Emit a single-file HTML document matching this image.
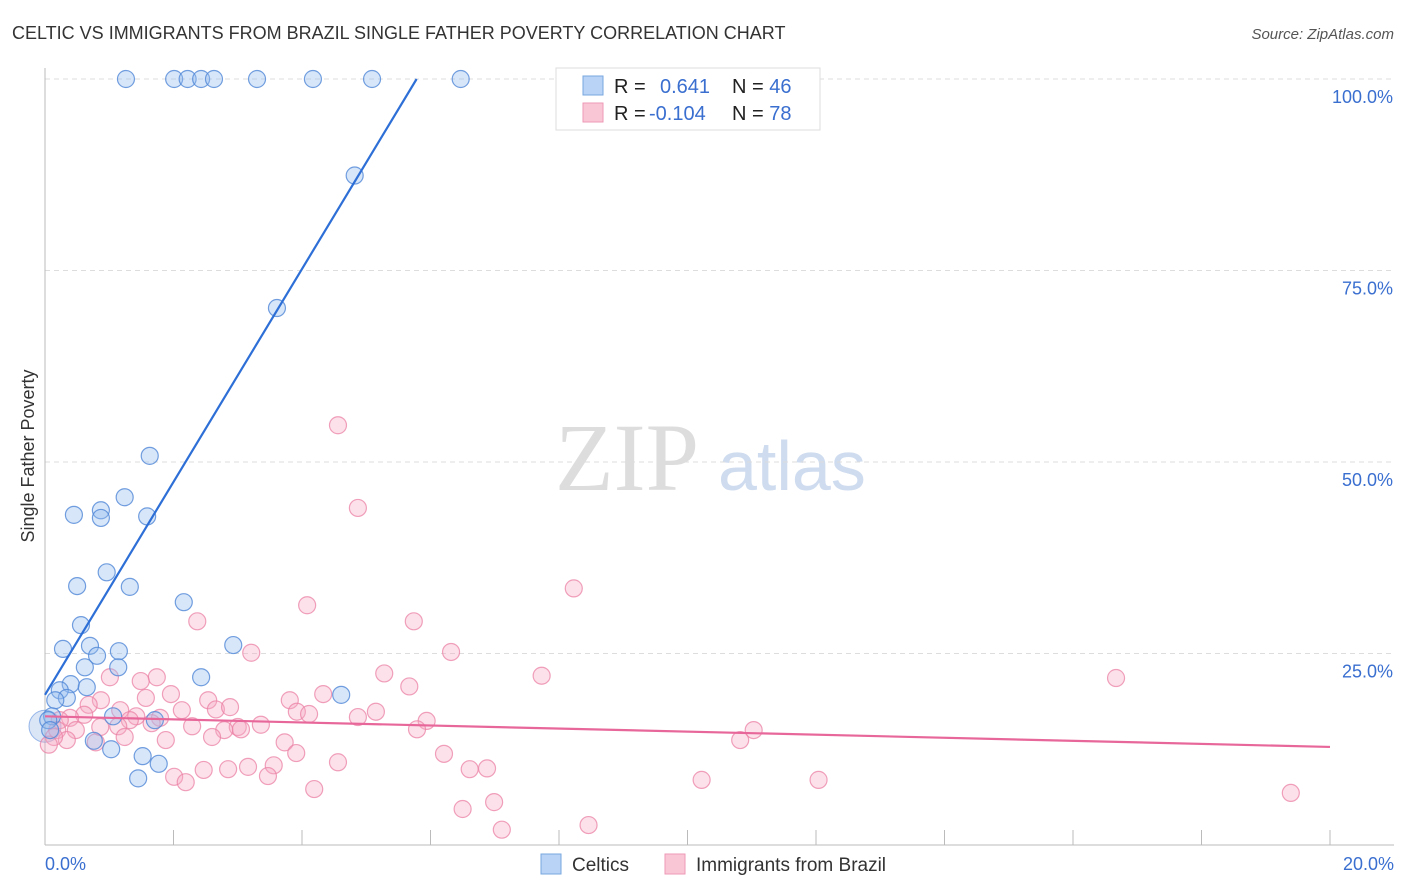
<!DOCTYPE html>
<html><head><meta charset="utf-8"><style>
body{margin:0;background:#fff;font-family:"Liberation Sans",sans-serif;}
#wrap{position:relative;width:1406px;height:892px;overflow:hidden;}
</style></head><body>
<div id="wrap">
<svg id="svg" width="1406" height="892" xmlns="http://www.w3.org/2000/svg">
<text x="12" y="39" font-size="18" fill="#333">CELTIC VS IMMIGRANTS FROM BRAZIL SINGLE FATHER POVERTY CORRELATION CHART</text>
<text x="1394" y="39" font-size="15" fill="#555" font-style="italic" text-anchor="end">Source: ZipAtlas.com</text>
<text x="34" y="456" font-size="18" fill="#333" text-anchor="middle" transform="rotate(-90 34 456)">Single Father Poverty</text>
<text x="555" y="490" font-size="96" fill="#ddd" font-family="Liberation Serif,serif">ZIP</text>
<text x="718" y="490" font-size="70" fill="#cfdcef">atlas</text>
<g id="grid"></g><g id="pts"></g><g id="lines"></g>
<g>
<rect x="556" y="68" width="264" height="62" fill="#fff" stroke="#ddd"/>
<rect x="583" y="76" width="20" height="19" fill="#b8d3f5" stroke="#7aa7e0"/>
<rect x="583" y="103" width="20" height="19" fill="#f9c6d6" stroke="#ee9ab5"/>
<text x="614" y="93" font-size="20" fill="#222">R = <tspan x="660" fill="#3a6fd0">0.641</tspan><tspan x="732" fill="#222">N = </tspan><tspan fill="#3a6fd0">46</tspan></text>
<text x="614" y="120" font-size="20" fill="#222">R = <tspan x="649" fill="#3a6fd0">-0.104</tspan><tspan x="732" fill="#222">N = </tspan><tspan fill="#3a6fd0">78</tspan></text>
</g>
<g>
<rect x="541" y="854" width="20" height="20" fill="#b8d3f5" stroke="#7aa7e0"/>
<text x="572" y="871" font-size="19" fill="#333">Celtics</text>
<rect x="665" y="854" width="20" height="20" fill="#f9c6d6" stroke="#ee9ab5"/>
<text x="696" y="871" font-size="19" fill="#333">Immigrants from Brazil</text>
</g>
</svg></div>
<script>
const yTicks=[25,50,75,100];
const yTickLabels=["25.0%","50.0%","75.0%","100.0%"];
const xTicks=[0,2,4,6,8,10,12,14,16,18,20];
const celticsX=[1.26,2.01,2.22,2.43,2.63,3.30,4.17,5.09,6.47,4.82,3.61,1.63,1.24,0.45,0.87,0.87,1.59,0.50,0.96,1.32,0.56,2.16,0.28,0.70,0.81,1.15,1.14,2.93,0.62,0.40,0.65,2.43,0.23,0.34,0.16,4.61,1.06,1.71,0.11,0.05,0.76,1.03,1.52,1.77,1.45,0.08];
const celticsY=[100,100,100,100,100,100,100,100,100,87.4,70.1,50.8,45.4,43.1,43.7,42.7,42.9,33.8,35.6,33.7,28.7,31.7,25.6,26.0,24.7,25.3,23.2,26.1,23.2,21.0,20.6,21.9,20.2,19.2,18.9,19.6,16.8,16.3,16.8,16.3,13.6,12.5,11.6,10.6,8.7,15.0];
const brazilX=[4.56,4.87,8.23,4.08,2.37,5.74,3.21,6.32,5.28,7.73,16.67,5.67,1.74,1.01,1.49,1.96,1.57,4.33,3.81,2.54,0.87,0.68,2.13,2.66,2.88,3.92,4.11,5.15,4.87,5.94,1.17,1.42,1.79,1.66,1.32,0.61,0.39,0.23,0.86,1.14,2.29,3.00,3.05,2.79,3.36,5.79,11.03,10.82,0.48,0.19,0.34,0.14,1.24,2.60,1.88,3.73,0.79,3.91,6.21,3.16,3.56,4.56,6.61,6.88,2.47,2.85,2.01,2.19,3.47,10.22,12.04,4.19,6.99,6.50,7.11,8.46,19.39,0.06];
const brazilY=[54.8,44.0,33.5,31.3,29.2,29.2,25.1,25.2,22.4,22.1,21.8,20.7,21.9,21.9,21.4,19.7,19.2,19.7,18.9,18.9,18.9,18.3,17.6,17.7,18.0,17.4,17.1,17.4,16.7,16.2,17.6,16.8,16.6,15.9,16.3,17.0,16.6,16.3,15.4,15.5,15.5,15.4,15.1,15.0,15.7,15.1,15.0,13.7,15.0,15.0,13.7,14.1,14.1,14.1,13.7,13.4,13.4,12.0,11.9,10.2,10.4,10.8,9.9,10.0,9.8,9.9,8.9,8.2,9.0,8.5,8.5,7.3,5.6,4.7,2.0,2.6,6.8,13.1];
const celticsTrend=[19.6,13.9]; // intercept, slope
const brazilTrend=[16.8,-0.2];
const NS="http://www.w3.org/2000/svg";
const X=v=>45+v/20*1285, Y=v=>845-v/100*766;
function mk(t,a,p){const e=document.createElementNS(NS,t);for(const k in a)e.setAttribute(k,a[k]);p.appendChild(e);return e;}
const grid=document.getElementById('grid'),pts=document.getElementById('pts'),lines=document.getElementById('lines');
yTicks.forEach((t,i)=>{
 const l=mk('line',{x1:45,x2:1394,y1:Y(t),y2:Y(t),stroke:'#ddd','stroke-dasharray':'5,4'},grid);
 
 
 const tx=mk('text',{x:1393,y:Y(t)+24,'font-size':18,fill:'#3a6fd0','text-anchor':'end'},grid);tx.textContent=yTickLabels[i];
 
 
});
const ax=mk('line',{x1:45,x2:1394,y1:845,y2:845,stroke:'#bbb'},grid);


const ay=mk('line',{x1:45,x2:45,y1:68,y2:845,stroke:'#bbb'},grid);


xTicks.forEach(t=>{const l=mk('line',{x1:X(t),x2:X(t),y1:830,y2:845,stroke:'#bbb'},grid);
 
 });
[[0,"0.0%",'start',45],[20,"20.0%",'end',1394]].forEach(d=>{const t=mk('text',{x:d[3],y:870,'font-size':18,fill:'#3a6fd0','text-anchor':d[2]},grid);t.textContent=d[1];
 
 });
const big=mk('circle',{cx:X(0),cy:Y(15.5),r:16,fill:'rgba(150,180,230,0.35)',stroke:'rgba(90,140,220,0.6)'},pts);


brazilX.forEach((x,i)=>{const c=mk('circle',{cx:X(x),cy:Y(brazilY[i]),r:8.5,fill:'rgba(246,170,195,0.35)',stroke:'rgba(235,130,165,0.75)','stroke-width':1.2},pts);
 
 });
celticsX.forEach((x,i)=>{const c=mk('circle',{cx:X(x),cy:Y(celticsY[i]),r:8.5,fill:'rgba(150,190,240,0.38)',stroke:'rgba(80,135,215,0.8)','stroke-width':1.2},pts);
 
 });
const cx2=(100-celticsTrend[0])/celticsTrend[1];
const l1=mk('line',{x1:X(0),y1:Y(celticsTrend[0]),x2:X(cx2),y2:Y(100),stroke:'#2d6fd6','stroke-width':2.2},lines);


const l2=mk('line',{x1:X(0),y1:Y(brazilTrend[0]),x2:X(20),y2:Y(brazilTrend[0]+20*brazilTrend[1]),stroke:'#e8679a','stroke-width':2.2},lines);


</script>
</body></html>
